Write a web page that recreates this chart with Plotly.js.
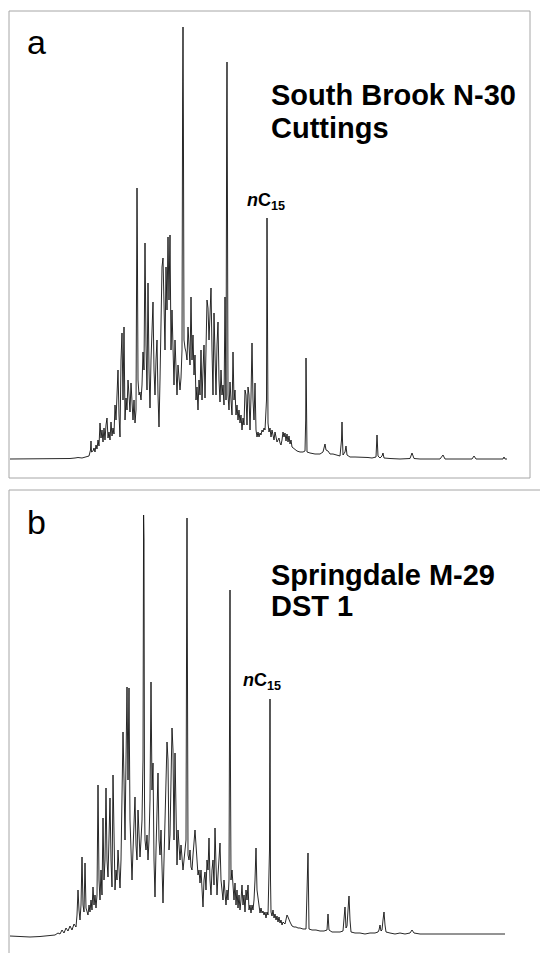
<!DOCTYPE html>
<html>
<head>
<meta charset="utf-8">
<script src="https://cdn.plot.ly/plotly-3.0.1.min.js"></script>
<style>html,body{margin:0;padding:0;background:#fff;}#chart{width:540px;height:953px;}</style>
</head>
<body>
<div id="chart"></div>
<script>
// Chromatogram a: South Brook N-30 cuttings — [retention position, detector response]
const traceA = [
[10,0],[40,0],[60,0],[70,0.5],[75,1],[78,1.5],[82,1],[86,2],[89,3],[90.5,9],[91,18],[91.5,7],[93,8],[94,11],[95,7],[96,14],[97,10],[98,19],[99,13],[100,36],[101,21],[102,29],[103,17],[104,31],[105,19],[106,34],[107,41],[108,21],[109,27],[110,19],[111,37],[112,23],[113,31],[114,25],[115,54],[116,39],[117,76],[118,89],[119,44],[120,22],[121,99],[122,126],[123,59],[124,132],[125,39],[126,61],[127,49],[128,79],[129,64],[130,47],[131,76],[132,55],[133,39],[134,59],[135,36],[136,49],[136.7,259],[137,271],[137.4,209],[138,79],[139,64],[140,67],[141,59],[142,74],[143,107],[144,89],[145,216],[145.5,129],[146,114],[147,69],[148,176],[149,89],[150,51],[151,99],[152,129],[153,157],[154,89],[155,64],[156,99],[157,119],[158,64],[159,32],[160,79],[161,139],[162,192],[163,201],[164,129],[165,109],[166,192],[167,149],[168,222],[169,159],[170,224],[171,109],[172,149],[173,99],[174,74],[175,119],[176,89],[177,64],[178,94],[179,79],[180,69],[181,81],[182,109],[182.6,359],[183,432],[183.4,339],[184,119],[185,111],[186,107],[187,99],[188,132],[189,114],[190,94],[191,162],[192,99],[193,124],[194,84],[195,104],[196,59],[197,72],[198,49],[199,79],[200,64],[201,109],[202,59],[203,89],[204,114],[205,61],[206,129],[207,159],[208,151],[209,119],[210,144],[211,171],[212,109],[213,64],[214,146],[215,99],[216,64],[217,114],[218,137],[219,79],[220,57],[221,89],[222,64],[223,74],[224,54],[225,162],[226,59],[226.7,339],[227,397],[227.4,279],[228,64],[229,49],[230,77],[231,59],[232,44],[233,107],[234,59],[235,69],[236,44],[237,54],[238,39],[239,49],[240,36],[241,44],[242,29],[243,41],[244,34],[245,69],[246,64],[247,34],[248,72],[249,64],[250,29],[251,62],[252,116],[253,59],[254,39],[255,76],[256,29],[257,22],[258,27],[259,22],[260,26],[261,24],[262,29],[263,27],[264,31],[265,29],[266.5,59],[267,241],[267.5,69],[268,36],[269,27],[270,31],[271,22],[272,29],[273,24],[274,19],[275,27],[276,21],[277,17],[278,19],[279,21],[280,16],[281,14],[282,19],[283,27],[284,22],[285,26],[286,18],[287,25],[288,17],[289,23],[290,15],[291,19],[292,12],[293,11],[294,10],[295,9],[297,8],[300,7],[303,7],[305,8],[305.7,39],[306,101],[306.4,29],[307,7],[310,6],[315,5],[320,5],[323,7],[325,15],[326,9],[328,8],[330,5],[333,5],[336,4],[340,3],[341.5,19],[342,37],[342.5,19],[343,4],[345,7],[346,13],[347,4],[350,2],[355,2],[360,2],[363,2],[368,1.5],[372,1],[376,2],[377,24],[378,3],[380,1],[382,3],[383,6],[384,1],[390,0.5],[400,0],[410,0.5],[412,6],[414,0.5],[420,0],[430,0],[440,0],[443,4],[445,0],[455,0],[465,0],[472,0],[474,3],[476,0],[490,0],[500,0],[503,0],[504,2],[505,0],[507,0]
];

// Chromatogram b: Springdale M-29 DST 1 — [retention position, detector response]
const traceB = [
[10,0],[20,-0.5],[30,-1],[40,-0.5],[50,0],[55,1],[58,3],[60,2],[62,6],[64,3],[66,8],[68,5],[70,10],[72,6],[74,12],[76,9],[77,21],[78,46],[79,26],[80,16],[81,31],[82,79],[83,31],[84,24],[85,73],[86,28],[88,21],[89,31],[90,24],[91,36],[92,26],[93,49],[94,31],[95,41],[96,28],[97,41],[98,151],[99,56],[100,36],[101,66],[102,41],[103,118],[104,56],[105,76],[106,148],[107,76],[108,59],[109,91],[110,138],[111,76],[112,49],[113,161],[114,86],[115,46],[116,66],[117,56],[118,86],[119,61],[120,48],[121,76],[122,136],[123,204],[124,156],[125,96],[126,176],[127,249],[128,156],[129,248],[130,116],[131,76],[132,56],[133,86],[134,106],[135,139],[136,91],[137,76],[138,126],[139,96],[140,79],[141,96],[142,116],[143,176],[143.6,421],[144,396],[144.5,136],[145,96],[146,86],[147,101],[148,76],[149,96],[150,136],[151,254],[152,146],[153,173],[154,76],[155,39],[156,86],[157,116],[158,163],[159,96],[160,81],[161,106],[162,66],[163,33],[164,76],[165,116],[166,136],[167,194],[168,176],[169,86],[170,101],[171,156],[172,208],[173,186],[174,96],[175,183],[176,106],[177,71],[178,106],[179,86],[180,76],[181,91],[182,71],[183,66],[184,76],[185,86],[186,96],[186.7,336],[187,418],[187.4,286],[188,81],[189,76],[190,86],[191,69],[192,66],[193,81],[194,96],[195,106],[196,91],[197,79],[198,61],[199,66],[200,53],[201,66],[202,46],[203,29],[204,56],[205,64],[206,46],[207,76],[208,66],[209,98],[210,56],[211,41],[212,66],[213,76],[214,51],[215,108],[216,71],[217,41],[218,61],[219,76],[220,93],[221,56],[222,41],[223,36],[224,56],[225,41],[226,31],[227,46],[228,36],[229,56],[229.7,236],[230,346],[230.4,186],[231,56],[232,66],[233,46],[234,36],[235,53],[236,31],[237,46],[238,28],[239,41],[240,26],[241,36],[242,51],[243,31],[244,41],[245,24],[246,46],[247,36],[248,51],[249,26],[250,31],[251,23],[252,31],[253,26],[254,36],[255,56],[256,88],[257,46],[258,36],[259,26],[260,23],[261,28],[262,23],[263,25],[264,21],[265,24],[266,18],[267,24],[268,21],[269.5,86],[270,237],[270.5,56],[271,24],[272,20],[273,26],[274,18],[275,22],[276,16],[277,20],[278,14],[279,19],[280,13],[281,16],[282,11],[283,14],[285,12],[286,18],[287,21],[288,19],[289,15],[290,14],[292,10],[294,9],[296,9],[298,8],[300,8],[303,7],[306,7],[307.5,56],[308,83],[308.5,46],[309,7],[312,6],[316,6],[320,5],[324,5],[327,6],[328,22],[329,6],[332,4],[336,4],[340,4],[343,5],[344,16],[345,29],[346,8],[347,10],[348,26],[349,40],[350,16],[351,4],[355,3],[360,3],[365,2],[370,3],[375,3],[378,4],[379,6],[380,11],[381,5],[382,6],[383,16],[384,24],[385,11],[386,4],[390,3],[395,2],[400,3],[405,2],[410,3],[412,6],[414,3],[420,2],[430,2],[440,2],[450,2],[460,2],[470,2],[480,2],[490,2],[500,2],[505,2]
];

const panelLabels = ['a', 'b'];
const sampleTitles = [['South Brook N-30', 'Cuttings'], ['Springdale M-29', 'DST 1']];
const peakLabel = '<i>n</i>C<sub>15</sub>';

// ---- layout helpers (pixel -> paper) ----
const W = 540, H = 953;
const px = v => v / W;
const py = v => (H - v) / H;

const lineStyle = {color: '#111111', width: 0.9};
const data = [
  {x: traceA.map(p => p[0]), y: traceA.map(p => p[1]), xaxis: 'x', yaxis: 'y',
   mode: 'lines', line: lineStyle, hoverinfo: 'skip', showlegend: false},
  {x: traceB.map(p => p[0]), y: traceB.map(p => p[1]), xaxis: 'x', yaxis: 'y2',
   mode: 'lines', line: lineStyle, hoverinfo: 'skip', showlegend: false}
];

const hidden = {visible: false, showgrid: false, zeroline: false, fixedrange: true};
const frameColor = '#a6a6a6';

const layout = {
  width: W, height: H,
  margin: {l: 0, r: 0, t: 0, b: 0},
  paper_bgcolor: '#ffffff', plot_bgcolor: 'rgba(0,0,0,0)',
  showlegend: false,
  xaxis: Object.assign({range: [0, 540], domain: [0, 1]}, hidden),
  yaxis: Object.assign({range: [-19, 448], domain: [py(478), py(11)]}, hidden),
  yaxis2: Object.assign({range: [-17, 446], domain: [0, py(490)]}, hidden),
  shapes: [
    {type: 'rect', xref: 'paper', yref: 'paper', x0: px(9), x1: px(530), y0: py(478), y1: py(11),
     line: {color: frameColor, width: 1}, fillcolor: 'rgba(0,0,0,0)', layer: 'below'},
    {type: 'line', xref: 'paper', yref: 'paper', x0: px(9), x1: 1, y0: py(490), y1: py(490),
     line: {color: frameColor, width: 1}},
    {type: 'line', xref: 'paper', yref: 'paper', x0: px(9), x1: px(9), y0: py(490), y1: -0.01,
     line: {color: frameColor, width: 1}}
  ],
  annotations: []
};

const font = "Liberation Sans, Arial, sans-serif";
function addText(text, xPix, yPix, size, bold) {
  layout.annotations.push({
    text: bold ? '<b>' + text + '</b>' : text,
    xref: 'paper', yref: 'paper', x: px(xPix), y: py(yPix),
    xanchor: 'left', yanchor: 'middle', showarrow: false, align: 'left',
    font: {family: font, size: size, color: '#000'}
  });
}
// panel letters
addText(panelLabels[0], 25, 42, 34, false);
addText(panelLabels[1], 25, 522, 34, false);
// sample titles
addText(sampleTitles[0][0], 269, 95, 29, true);
addText(sampleTitles[0][1], 269, 128, 29, true);
addText(sampleTitles[1][0], 269, 575, 29, true);
addText(sampleTitles[1][1], 269, 606, 29, true);
// nC15 markers
addText(peakLabel, 245, 201, 18, true);
addText(peakLabel, 241, 681, 18, true);

Plotly.newPlot('chart', data, layout, {staticPlot: true, displayModeBar: false});
</script>
</body>
</html>
